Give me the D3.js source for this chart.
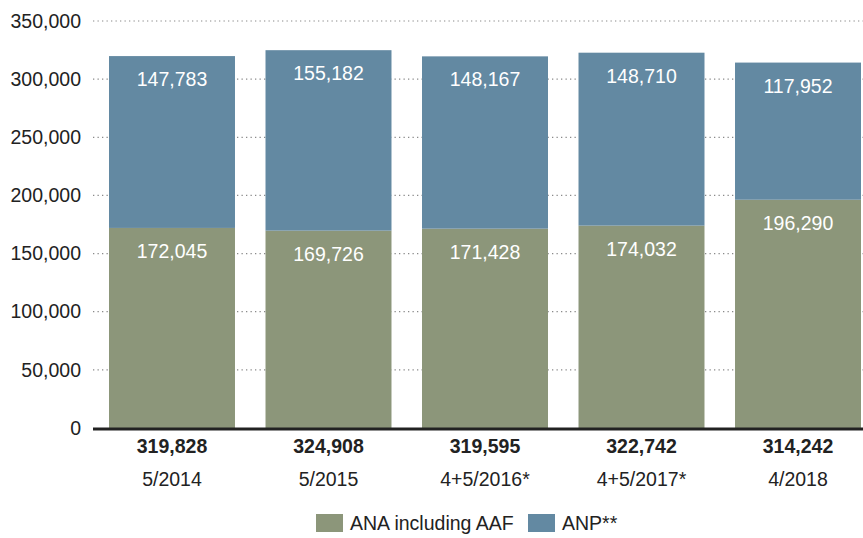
<!DOCTYPE html>
<html>
<head>
<meta charset="utf-8">
<script src="https://cdn.jsdelivr.net/npm/d3@7"></script>
<style>
  html, body { margin: 0; padding: 0; background: #fff; }
  svg { display: block; font-family: "Liberation Sans", Arial, sans-serif; }
</style>
</head>
<body>
<svg id="chart" width="863" height="538"></svg>
<script>
// Afghan security force strength by reporting period
const periods = ["5/2014", "5/2015", "4+5/2016*", "4+5/2017*", "4/2018"];
const ana = [172045, 169726, 171428, 174032, 196290];
const anp = [147783, 155182, 148167, 148710, 117952];
const totals = [319828, 324908, 319595, 322742, 314242];
const yTicks = [0, 50000, 100000, 150000, 200000, 250000, 300000, 350000];
const seriesNames = ["ANA including AAF", "ANP**"];
const colors = ["#8c967a", "#6389a2"];

const svg = d3.select("#chart");
const fmt = d3.format(",");
const FS = 19.5;

const x = d3.scaleBand().domain(periods).range([109, 861]).paddingInner(0.195).paddingOuter(0);
const y = d3.scaleLinear().domain([0, 350000]).range([428, 21]);

// value labels on the left, dotted gridlines across
const yAxis = d3.axisLeft(y).tickValues(yTicks).tickFormat(fmt).tickSize(0).tickPadding(0);
const gy = svg.append("g").attr("transform", "translate(81,0)").call(yAxis);
gy.select(".domain").remove();
gy.selectAll("text")
  .attr("font-size", FS).attr("fill", "#222")
  .attr("font-family", "Liberation Sans, Arial, sans-serif");

svg.append("g").selectAll("line").data(yTicks.filter(d => d > 0)).join("line")
  .attr("x1", 93).attr("x2", 863)
  .attr("y1", d => y(d)).attr("y2", d => y(d))
  .attr("stroke", "#8a8a8a").attr("stroke-width", 1.2)
  .attr("stroke-dasharray", "1.3,3.2");

// stacked bars
const rows = periods.map((p, i) => ({ period: p, ana: ana[i], anp: anp[i] }));
const stacked = d3.stack().keys(["ana", "anp"])(rows);

svg.append("g").selectAll("g").data(stacked).join("g")
  .attr("fill", (d, i) => colors[i])
  .selectAll("rect").data(d => d).join("rect")
  .attr("x", d => x(d.data.period))
  .attr("width", x.bandwidth())
  .attr("y", d => y(d[1]))
  .attr("height", d => y(d[0]) - y(d[1]));

// segment value labels
svg.append("g").selectAll("g").data(stacked).join("g")
  .selectAll("text").data(d => d.map(v => ({ v, val: v[1] - v[0] }))).join("text")
  .attr("x", d => x(d.v.data.period) + x.bandwidth() / 2)
  .attr("y", d => y(d.v[1]) + 30)
  .attr("text-anchor", "middle")
  .attr("font-size", FS)
  .attr("fill", "#fff")
  .text(d => fmt(d.val));

// baseline
svg.append("line")
  .attr("x1", 93).attr("x2", 863)
  .attr("y1", y(0) + 1).attr("y2", y(0) + 1)
  .attr("stroke", "#222").attr("stroke-width", 3);

// totals and period labels
const xl = svg.append("g");
xl.selectAll("text.total").data(periods).join("text")
  .attr("class", "total")
  .attr("x", d => x(d) + x.bandwidth() / 2)
  .attr("y", 453)
  .attr("text-anchor", "middle")
  .attr("font-size", FS).attr("font-weight", "bold").attr("fill", "#222")
  .text((d, i) => fmt(totals[i]));
xl.selectAll("text.period").data(periods).join("text")
  .attr("class", "period")
  .attr("x", d => x(d) + x.bandwidth() / 2)
  .attr("y", 486)
  .attr("text-anchor", "middle")
  .attr("font-size", FS).attr("fill", "#222")
  .text(d => d);

// legend
const legendX = [316, 528];
const lg = svg.append("g").selectAll("g").data(seriesNames).join("g")
  .attr("transform", (d, i) => `translate(${legendX[i]},514)`);
lg.append("rect").attr("width", 27).attr("height", 18).attr("fill", (d, i) => colors[i]);
lg.append("text").attr("x", 34).attr("y", 16)
  .attr("font-size", FS).attr("fill", "#222").text(d => d);
</script>
</body>
</html>
